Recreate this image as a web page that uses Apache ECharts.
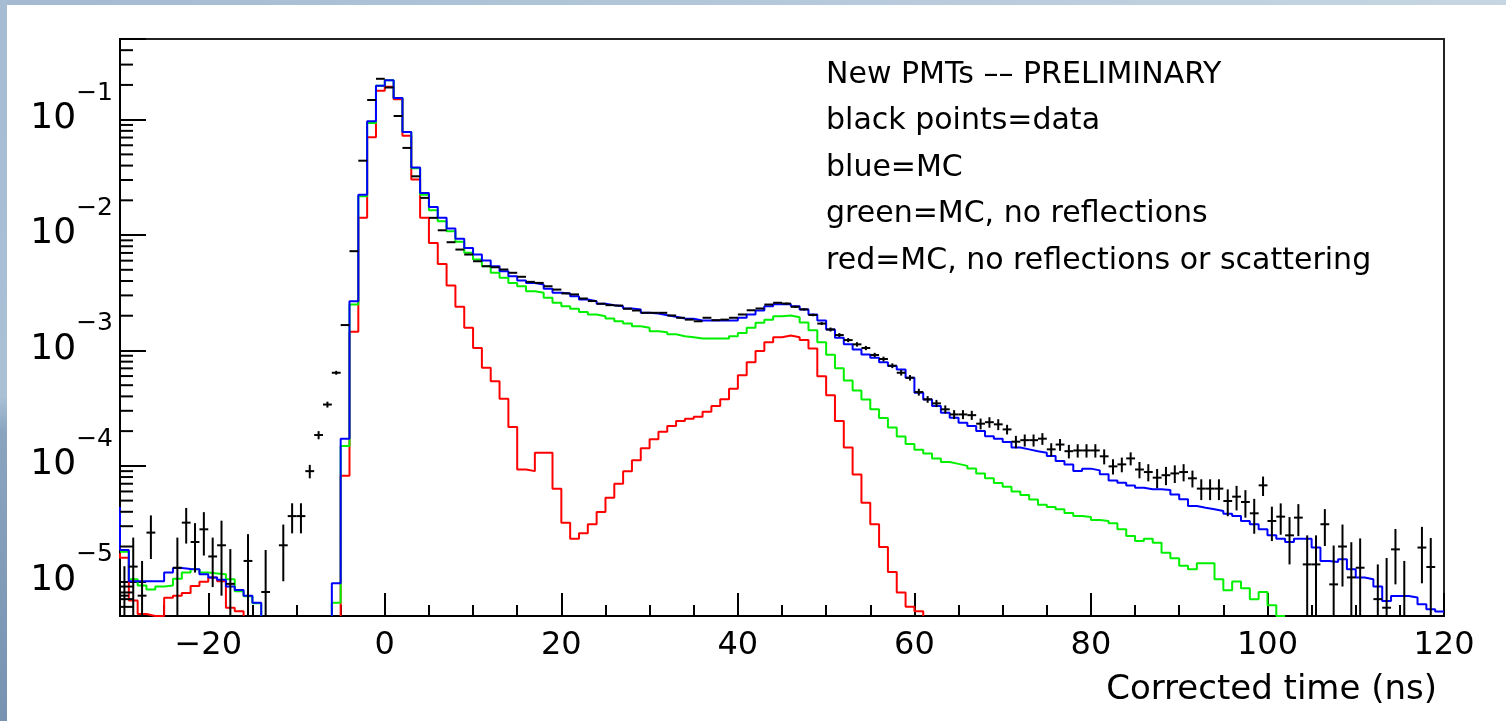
<!DOCTYPE html>
<html><head><meta charset="utf-8">
<script src="https://cdn.jsdelivr.net/npm/echarts@6/dist/echarts.min.js"></script>
<style>html,body{margin:0;padding:0;background:#fff;}#c{width:1506px;height:721px;}</style>
</head><body><div id="c"></div>
<script>
// ---- axis ranges / categories ----
const X_MIN = -30, X_MAX = 120, BIN_WIDTH = 1;
const Y_MIN = 5e-6, Y_MAX = 0.5;
const binStarts = Array.from({length: 150}, (_, i) => X_MIN + i * BIN_WIDTH);
const xMajorTicks = [-20, 0, 20, 40, 60, 80, 100, 120];
const yMinorTicks = [6e-6,7e-6,8e-6,9e-6, 2e-5,3e-5,4e-5,5e-5,6e-5,7e-5,8e-5,9e-5,
  2e-4,3e-4,4e-4,5e-4,6e-4,7e-4,8e-4,9e-4, 2e-3,3e-3,4e-3,5e-3,6e-3,7e-3,8e-3,9e-3,
  0.02,0.03,0.04,0.05,0.06,0.07,0.08,0.09, 0.2,0.3,0.4];

// ---- histogram contents (bins -30 .. 119) ----
const blueUnderflow = 4.4e-5;
const blueMC = [
 1.87e-5,1.0e-5,1.0e-5,1.0e-5,1.0e-5,1.19e-5,1.30e-5,1.28e-5,1.27e-5,1.15e-5,
 1.08e-5,1.03e-5,9.0e-6,8.4e-6,7.5e-6,6.5e-6,0,0,0,0,
 0,0,0,0,9.6e-6,1.72e-4,2.67e-3,0.0224,0.0967,0.197,
 0.220,0.154,0.078,0.0385,0.0232,0.0175,0.0141,0.0114,0.00927,0.00774,
 0.00678,0.00601,0.00537,0.00486,0.00440,0.00404,0.00385,0.00373,0.00342,0.00316,
 0.00312,0.00295,0.00277,0.00267,0.00254,0.00247,0.00242,0.00231,0.00226,0.00212,
 0.00209,0.00202,0.00196,0.00189,0.00188,0.00182,0.00182,0.00182,0.00182,0.00182,
 0.00192,0.00205,0.00222,0.00242,0.00252,0.00253,0.00242,0.00227,0.00205,0.00182,
 0.00152,0.00129,0.00113,0.00102,9.23e-4,8.65e-4,7.9e-4,7.35e-4,6.85e-4,5.79e-4,
 4.30e-4,3.76e-4,3.30e-4,2.89e-4,2.61e-4,2.36e-4,2.21e-4,2.00e-4,1.81e-4,1.72e-4,
 1.61e-4,1.44e-4,1.39e-4,1.34e-4,1.30e-4,1.22e-4,1.10e-4,1.03e-4,9.02e-5,9.46e-5,
 9.14e-5,8.44e-5,7.48e-5,7.15e-5,6.77e-5,6.47e-5,6.26e-5,6.26e-5,6.18e-5,5.66e-5,
 5.13e-5,4.49e-5,4.34e-5,4.20e-5,4.06e-5,3.85e-5,3.68e-5,3.33e-5,3.12e-5,2.82e-5,
 2.50e-5,2.34e-5,2.19e-5,2.34e-5,2.34e-5,1.96e-5,1.50e-5,1.47e-5,1.55e-5,1.27e-5,
 1.08e-5,1.04e-5,9.0e-6,6.75e-6,7.46e-6,7.46e-6,7.22e-6,6.32e-6,5.73e-6,5.47e-6
];
const greenUnderflow = 1.8e-5;
const greenMC = [
 1.8e-5,1.04e-5,9.2e-6,8.5e-6,9.0e-6,9.2e-6,1.05e-5,1.19e-5,1.27e-5,1.19e-5,
 1.17e-5,1.15e-5,1.04e-5,8.2e-6,7.4e-6,6.45e-6,0,0,0,0,
 0,0,0,0,6.5e-6,1.49e-4,2.50e-3,0.0217,0.0936,0.197,
 0.220,0.154,0.078,0.0380,0.0224,0.0164,0.0132,0.0108,0.00873,0.00702,
 0.00614,0.00537,0.00471,0.00426,0.00385,0.00360,0.00326,0.00316,0.00286,0.00259,
 0.00242,0.00230,0.00215,0.00205,0.00198,0.00189,0.00179,0.00171,0.00162,0.00157,
 0.00147,0.00144,0.00138,0.00133,0.00130,0.00127,0.00127,0.00127,0.00127,0.00133,
 0.00142,0.00157,0.00174,0.00185,0.00198,0.00201,0.00194,0.00175,0.00150,0.00118,
 9.2e-4,7.0e-4,5.5e-4,4.5e-4,3.75e-4,3.1e-4,2.6e-4,2.15e-4,1.8e-4,1.55e-4,
 1.38e-4,1.28e-4,1.16e-4,1.08e-4,1.04e-4,1.0e-4,9.5e-5,8.6e-5,7.8e-5,7.1e-5,
 6.6e-5,6.0e-5,5.6e-5,5.1e-5,4.6e-5,4.4e-5,4.2e-5,3.9e-5,3.68e-5,3.6e-5,
 3.4e-5,3.33e-5,3.18e-5,2.82e-5,2.47e-5,2.23e-5,2.34e-5,2.16e-5,1.77e-5,1.58e-5,
 1.36e-5,1.27e-5,1.43e-5,1.43e-5,1.04e-5,8.36e-6,9.93e-6,8.69e-6,6.98e-6,8.07e-6,
 6.19e-6,4e-6,0,0,0,0,0,0,0,0,
 0,0,0,0,0,0,0,0,0,0
];
const redUnderflow = 1.75e-5;
const redMC = [
 1.6e-5,6.8e-6,5.2e-6,4e-6,4e-6,7.2e-6,7.5e-6,7.9e-6,9.1e-6,9.9e-6,
 1.08e-5,1.0e-5,5.9e-6,5.5e-6,0,0,0,0,0,0,
 0,0,0,0,0,8.2e-5,1.45e-3,0.0141,0.0703,0.178,
 0.193,0.150,0.0726,0.0303,0.0141,0.00855,0.00562,0.00366,0.00239,0.00157,
 0.00105,7.08e-4,5.42e-4,3.82e-4,2.17e-4,9.3e-5,9.0e-5,1.3e-4,1.3e-4,6.34e-5,
 3.22e-5,2.34e-5,2.60e-5,3.12e-5,3.98e-5,5.30e-5,7.0e-5,9.0e-5,1.12e-4,1.42e-4,
 1.70e-4,1.98e-4,2.21e-4,2.45e-4,2.56e-4,2.67e-4,2.95e-4,3.30e-4,3.77e-4,4.66e-4,
 6.10e-4,7.92e-4,9.87e-4,1.18e-3,1.30e-3,1.35e-3,1.30e-3,1.23e-3,1.04e-3,5.99e-4,
 4.10e-4,2.45e-4,1.44e-4,8.43e-5,4.80e-5,3.12e-5,1.98e-5,1.2e-5,8e-6,6e-6,
 5.5e-6,0,0,0,0,0,0,0,0,0,
 0,0,0,0,0,0,0,0,0,0,
 0,0,0,0,0,0,0,0,0,0,
 0,0,0,0,0,0,0,0,0,0,
 0,0,0,0,0,0,0,0,0,0,
 0,0,0,0,0,0,0,0,0,0
];
// ---- data points (value and error per bin, null = no point) ----
const dataVal = [
 7.5e-6,1.34e-5,7.5e-6,2.64e-5,null,null,1.31e-5,3.22e-5,2.19e-5,2.82e-5,
 1.64e-5,2.05e-5,9.5e-6,null,1.5e-5,null,8.07e-6,null,2.05e-5,3.67e-5,
 3.67e-5,9.0e-5,1.85e-4,3.40e-4,6.41e-4,1.66e-3,7.25e-3,0.0441,0.148,0.226,
 0.190,0.1076,0.0569,0.0323,0.0210,0.0141,0.0110,0.00867,0.00749,0.00678,
 0.00593,0.00537,0.00526,0.00503,0.00471,0.00435,0.00393,0.00385,0.00360,0.00337,
 0.00312,0.00306,0.00282,0.00268,0.00254,0.00247,0.00245,0.00230,0.00222,0.00212,
 0.00212,0.00212,0.00201,0.00192,0.00185,0.00179,0.00192,0.00183,0.00185,0.00192,
 0.00205,0.00223,0.00231,0.00250,0.00259,0.00255,0.00239,0.00227,0.00203,0.00171,
 0.00152,0.00136,0.00123,0.00113,0.00105,9.14e-4,8.43e-4,7.38e-4,6.41e-4,5.80e-4,
 4.36e-4,3.77e-4,3.48e-4,3.09e-4,2.79e-4,2.79e-4,2.75e-4,2.32e-4,2.39e-4,2.29e-4,
 2.07e-4,1.62e-4,1.67e-4,1.67e-4,1.72e-4,1.39e-4,1.53e-4,1.34e-4,1.36e-4,1.36e-4,
 1.36e-4,1.21e-4,9.9e-5,1.03e-4,1.16e-4,9.3e-5,8.84e-5,7.9e-5,8.3e-5,8.6e-5,
 8.84e-5,7.8e-5,6.35e-5,6.35e-5,6.35e-5,4.96e-5,5.41e-5,4.86e-5,3.88e-5,6.78e-5,
 3.33e-5,3.63e-5,2.50e-5,3.56e-5,1.40e-5,1.40e-5,3.12e-5,9.4e-6,2.0e-5,1.08e-5,
 1.31e-5,null,7e-6,5.9e-6,1.89e-5,5.0e-6,null,1.96e-5,1.33e-5,null
];
const dataErr = [
 6e-6,1.05e-5,7.5e-6,1.08e-5,null,null,1.08e-5,1.1e-5,1.0e-5,1.15e-5,
 7.5e-6,1.3e-5,9.5e-6,null,1.06e-5,null,1.06e-5,null,1.05e-5,1.07e-5,
 1.07e-5,1.2e-5,1.5e-5,2.0e-5,2.5e-5,0,0,0,0,0,
 0,0,0,0,0,0,0,0,0,0,
 0,0,0,0,0,0,0,0,0,0,
 0,0,0,0,0,0,0,0,0,0,
 0,0,0,0,0,0,0,0,0,0,
 0,0,0,0,0,5e-5,5e-5,5e-5,5e-5,5e-5,
 6e-5,5.5e-5,5e-5,5e-5,4.5e-5,4e-5,4e-5,3.5e-5,3.5e-5,3.2e-5,
 3e-5,2.5e-5,2.5e-5,2.5e-5,2.5e-5,2.5e-5,2.5e-5,2.5e-5,2.5e-5,2.5e-5,
 2e-5,2e-5,2e-5,2e-5,2e-5,1.8e-5,1.8e-5,1.8e-5,1.8e-5,1.8e-5,
 1.8e-5,1.8e-5,1.5e-5,1.5e-5,1.5e-5,1.5e-5,1.5e-5,1.5e-5,1.5e-5,1.5e-5,
 1.5e-5,1.3e-5,1.3e-5,1.3e-5,1.3e-5,1.3e-5,1.3e-5,1.3e-5,1.3e-5,1.3e-5,
 1.1e-5,1.1e-5,1.1e-5,1.1e-5,1.1e-5,1.1e-5,1.1e-5,1.1e-5,1.1e-5,1.1e-5,
 1.04e-5,null,7e-6,1.0e-5,9.5e-6,1.0e-5,null,1.0e-5,1.04e-5,null
];
const annotationLines = [
 'New PMTs –– PRELIMINARY',
 'black points=data',
 'blue=MC',
 'green=MC, no reflections',
 'red=MC, no reflections or scattering'
];
const xAxisTitle = 'Corrected time (ns)';

// ---- helpers ----
const FONT = '"DejaVu Sans", "Liberation Sans", sans-serif';
function clampY(v) { return Math.min(Math.max(v, Y_MIN), Y_MAX); }
function histogramPath(vals, under) {
  const pts = [];
  let prev = under;
  for (let i = 0; i < vals.length; i++) {
    const v = vals[i];
    const x0 = binStarts[i], x1 = x0 + BIN_WIDTH;
    if (v > 0) {
      pts.push([x0, prev > 0 ? clampY(prev) : Y_MIN]);
      pts.push([x0, clampY(v)]);
      pts.push([x1, clampY(v)]);
    } else if (prev > 0) {
      pts.push([x0, Y_MIN]);
      pts.push([x0, '-']);
    }
    prev = v;
  }
  return pts;
}
const dataPoints = [];
binStarts.forEach((b, i) => {
  if (dataVal[i] !== null) dataPoints.push([b + BIN_WIDTH / 2, dataVal[i], dataErr[i]]);
});

function histSeries(name, vals, under, color, z) {
  return {
    name, type: 'line', data: histogramPath(vals, under), xAxisIndex: 0, yAxisIndex: 0,
    showSymbol: false, symbol: 'none', clip: true, z, silent: true,
    lineStyle: { color, width: 2 }, connectNulls: false
  };
}

const chart = echarts.init(document.getElementById('c'), null, { renderer: 'canvas' });
const option = {
  animation: false,
  backgroundColor: '#ffffff',
  textStyle: { fontFamily: FONT },
  grid: { left: 120, top: 39, width: 1324, height: 577, show: true, borderColor: '#222', borderWidth: 2,
          backgroundColor: 'transparent', containLabel: false, outerBoundsMode: 'none' },
  xAxis: [
    { type: 'value', min: X_MIN, max: X_MAX, interval: 5, position: 'bottom',
      axisLine: { show: true, onZero: false, lineStyle: { color: '#000', width: 2 } },
      axisTick: { show: true, inside: true, length: 11, lineStyle: { color: '#000', width: 2 } },
      axisLabel: { show: false }, splitLine: { show: false } },
    { type: 'value', min: X_MIN, max: X_MAX, position: 'bottom',
      axisLine: { show: false, onZero: false },
      axisTick: { show: true, inside: true, length: 23, customValues: xMajorTicks, lineStyle: { color: '#000', width: 2 } },
      axisLabel: { show: true, customValues: xMajorTicks, margin: 14, color: '#000', fontSize: 32, fontFamily: FONT,
        formatter: v => (v < 0 ? '\u2212' + Math.abs(v) : String(v)) },
      splitLine: { show: false } }
  ],
  yAxis: [
    { type: 'log', logBase: 10, min: Y_MIN, max: Y_MAX,
      axisLine: { show: true, onZero: false, lineStyle: { color: '#000', width: 2 } },
      axisTick: { show: true, inside: true, length: 26, lineStyle: { color: '#000', width: 2 } },
      splitLine: { show: false },
      axisLabel: { show: true, margin: 7, padding: [0, 0, 22, 0],
        formatter: v => {
          const e = Math.round(Math.log10(v));
          if (Math.abs(v - Math.pow(10, e)) / v > 1e-6) return '';
          return '{b|10}{s|\u2212' + (-e) + '}';
        },
        rich: {
          b: { fontSize: 36, fontFamily: FONT, color: '#000', lineHeight: 56, verticalAlign: 'bottom' },
          s: { fontSize: 25, fontFamily: FONT, color: '#000', lineHeight: 25, verticalAlign: 'top' }
        } } }
  ],
  graphic: [
    { type: 'rect', silent: true, z: -10, shape: { x: 0, y: 0, width: 1506, height: 5 },
      style: { fill: new echarts.graphic.LinearGradient(0, 0, 1, 0, [
        { offset: 0, color: '#a3bad1' }, { offset: 0.5, color: '#b5c8da' }, { offset: 1, color: '#c6d6e2' }]) } },
    { type: 'rect', silent: true, z: -10, shape: { x: 0, y: 0, width: 7, height: 721 },
      style: { fill: new echarts.graphic.LinearGradient(0, 0, 0, 1, [
        { offset: 0, color: '#a5bcd3' }, { offset: 0.55, color: '#a9c0d5' }, { offset: 0.6, color: '#8aa4c0' }, { offset: 1, color: '#7893b2' }]) } },
    ...annotationLines.map((t, i) => ({
      type: 'text', x: 826, y: 75 + i * 46.5, silent: true,
      style: { text: t, fontSize: 30, fontFamily: FONT, fill: '#000', align: 'left', verticalAlign: 'middle',
               textAlign: 'left', textVerticalAlign: 'middle' }
    })),
    { type: 'text', x: 1437, y: 690, silent: true,
      style: { text: xAxisTitle, fontSize: 34, fontFamily: FONT, fill: '#000', align: 'right', verticalAlign: 'middle',
               textAlign: 'right', textVerticalAlign: 'middle' } }
  ],
  series: [
    histSeries('red', redMC, redUnderflow, '#ff0000', 2),
    histSeries('green', greenMC, greenUnderflow, '#00f000', 3),
    histSeries('blue', blueMC, blueUnderflow, '#0000ff', 4),
    { name: 'data', type: 'custom', xAxisIndex: 0, yAxisIndex: 0, z: 5, silent: true,
      data: dataPoints, encode: { x: 0, y: 1 },
      renderItem: (params, api) => {
        const t = api.value(0), v = api.value(1), e = api.value(2) || 0;
        const children = [];
        const st = { stroke: '#000', lineWidth: 2 };
        if (v >= Y_MIN && v <= Y_MAX) {
          const l = api.coord([t - BIN_WIDTH / 2, v]), r = api.coord([t + BIN_WIDTH / 2, v]);
          children.push({ type: 'line', shape: { x1: l[0], y1: l[1], x2: r[0], y2: r[1] }, style: st });
        }
        const top = Math.min(v + e, Y_MAX), bot = Math.max(v - e, Y_MIN);
        if (e > 0 && top > Y_MIN) {
          const a = api.coord([t, top]), b = api.coord([t, bot]);
          children.push({ type: 'line', shape: { x1: a[0], y1: a[1], x2: b[0], y2: b[1] }, style: st });
        }
        return { type: 'group', children };
      } },
    { name: 'yMinorTicks', type: 'custom', xAxisIndex: 0, yAxisIndex: 0, z: 6, silent: true,
      data: yMinorTicks.map(v => [X_MIN, v]), encode: { x: 0, y: 1 },
      renderItem: (params, api) => {
        const p = api.coord([X_MIN, api.value(1)]);
        const x = params.coordSys.x;
        return { type: 'line', shape: { x1: x, y1: p[1], x2: x + 13, y2: p[1] }, style: { stroke: '#000', lineWidth: 2 } };
      } }
  ]
};
chart.setOption(option);
</script>
</body></html>
